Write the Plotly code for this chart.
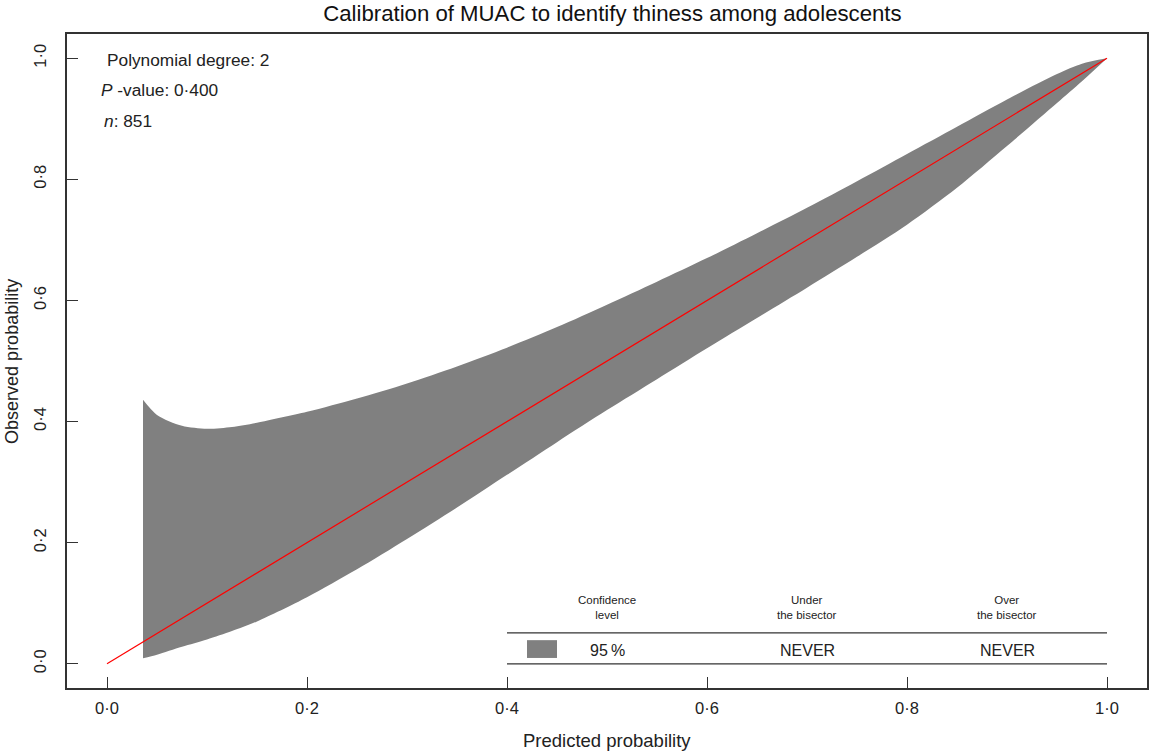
import plotly.graph_objects as go

# ---- data ----
pred = [0.036, 0.05, 0.075, 0.1, 0.125, 0.15, 0.2, 0.25, 0.3, 0.35, 0.4, 0.45,
        0.5, 0.55, 0.6, 0.65, 0.7, 0.75, 0.8, 0.85, 0.9, 0.95, 0.975, 1.0]
belt_upper = [0.436, 0.411, 0.393, 0.388, 0.391, 0.398, 0.416, 0.438, 0.463, 0.491,
              0.522, 0.556, 0.593, 0.631, 0.670, 0.711, 0.753, 0.797, 0.842, 0.887,
              0.932, 0.974, 0.991, 1.0]
belt_lower = [0.009, 0.015, 0.028, 0.040, 0.054, 0.070, 0.110, 0.156, 0.206, 0.258,
              0.312, 0.366, 0.419, 0.470, 0.521, 0.571, 0.621, 0.672, 0.725, 0.786,
              0.855, 0.926, 0.962, 1.0]
bisector = [0.0, 1.0]
tick_vals = [0.0, 0.2, 0.4, 0.6, 0.8, 1.0]
tick_text = ["0·0", "0·2", "0·4", "0·6", "0·8", "1·0"]
stats_lines = ["Polynomial degree: 2", "<i>P</i> -value: 0·400", "<i>n</i>: 851"]
table_headers = ["Confidence<br>level", "Under<br>the bisector", "Over<br>the bisector"]
table_row = ["95\u2009%", "NEVER", "NEVER"]

FONT = "Liberation Sans, Arial, sans-serif"
GRAY = "rgb(128,128,128)"
AX = "#333333"
TXT = "#222222"

fig = go.Figure()
fig.add_trace(go.Scatter(x=pred, y=belt_lower, mode="lines",
                         line=dict(width=0, shape="spline", smoothing=0.8, color=GRAY),
                         showlegend=False, hoverinfo="skip"))
fig.add_trace(go.Scatter(x=pred, y=belt_upper, mode="lines",
                         line=dict(width=0, shape="spline", smoothing=0.8, color=GRAY),
                         fill="tonexty", fillcolor=GRAY, showlegend=False, hoverinfo="skip"))
fig.add_trace(go.Scatter(x=bisector, y=bisector, mode="lines", line=dict(color="#FF0000", width=1.2),
                         showlegend=False, hoverinfo="skip"))

# stats text top-left
stat_y = [0.997, 0.947, 0.897]
stat_x = [-0.002, -0.008, -0.005]
for t, yy, xx in zip(stats_lines, stat_y, stat_x):
    fig.add_annotation(x=xx, y=yy, text=t, showarrow=False, xanchor="left", yanchor="middle",
                       font=dict(family=FONT, size=17.3, color=TXT))

# calibration table
col_x = [0.5, 0.7, 0.9]
for t, xx in zip(table_headers, col_x):
    fig.add_annotation(x=xx, y=0.093, text=t, showarrow=False, xanchor="center", yanchor="middle",
                       font=dict(family=FONT, size=11.5, color=TXT))
for t, xx in zip(table_row, col_x):
    fig.add_annotation(x=xx, y=0.022, text=t, showarrow=False,
                       xanchor="center", yanchor="middle", font=dict(family=FONT, size=16, color=TXT))
fig.add_shape(type="line", x0=0.4, x1=1.0, y0=0.051, y1=0.051, line=dict(color=AX, width=1.3))
fig.add_shape(type="line", x0=0.4, x1=1.0, y0=0.0, y1=0.0, line=dict(color=AX, width=1.3))
fig.add_shape(type="rect", x0=0.42, x1=0.45, y0=0.0096, y1=0.039, fillcolor=GRAY,
              line=dict(width=0))

# axis titles as annotations (precise placement)
fig.add_annotation(xref="paper", yref="paper", x=0.5, y=-0.081, text="Predicted probability",
                   showarrow=False, xanchor="center", yanchor="middle",
                   font=dict(family=FONT, size=18.5, color=TXT))
fig.add_annotation(xref="paper", yref="paper", x=-0.051, y=0.5, text="Observed probability",
                   showarrow=False, xanchor="center", yanchor="middle", textangle=-90,
                   font=dict(family=FONT, size=18, color=TXT))

axis_common = dict(showgrid=False, zeroline=False, showline=True, linecolor=AX, linewidth=1.5,
                   mirror=True, ticks="inside", ticklen=11, tickcolor=AX, tickwidth=1.2,
                   tickmode="array", tickvals=tick_vals, ticktext=tick_text, automargin=False,
                   tickfont=dict(family=FONT, size=16.5, color=TXT), range=[-0.04, 1.04])
fig.update_xaxes(**axis_common, ticklabelstandoff=4)
fig.update_yaxes(**axis_common, tickangle=-90, ticklabelstandoff=13)

fig.update_layout(
    width=1150, height=751,
    margin=dict(l=67, r=3, t=34, b=63, autoexpand=False),
    paper_bgcolor="white", plot_bgcolor="white",
    title=dict(text="Calibration of MUAC to identify thiness among adolescents",
               xref="paper", x=0.505, xanchor="center",
               yref="container", y=1 - 13 / 751, yanchor="middle",
               font=dict(family=FONT, size=22.2, color="#111")),
)

fig.write_html("out.html", config={"displayModeBar": False},
               post_script="document.body.style.margin='0';")
